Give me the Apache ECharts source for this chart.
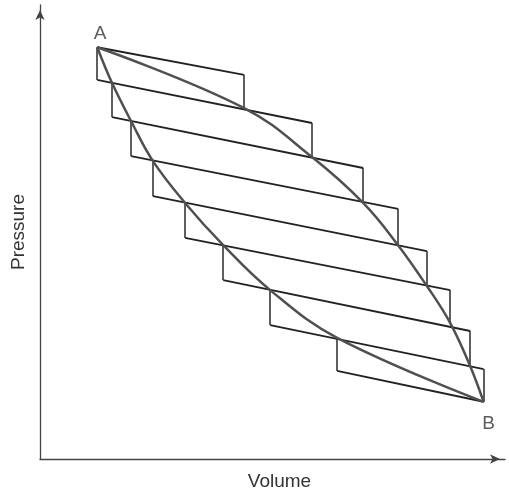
<!DOCTYPE html>
<html>
<head>
<meta charset="utf-8">
<script src="https://cdn.jsdelivr.net/npm/echarts@6/dist/echarts.min.js"></script>
<style>
html, body { margin: 0; padding: 0; background: #fff; }
#chart { width: 509px; height: 495px; }
</style>
</head>
<body>
<div id="chart"></div>
<script>
// slanted lines: start and end point of each (volume, pressure)
let stepStartV = [1.23, 1.23, 1.55, 1.96, 2.43, 3.12, 3.94, 4.95, 6.39];
let stepStartP = [9.07, 8.35, 7.53, 6.67, 5.79, 4.87, 3.94, 2.95, 1.94];
let stepEndV = [4.39, 5.85, 6.95, 7.70, 8.32, 8.82, 9.25, 9.54, 9.54];
let stepEndP = [8.46, 7.40, 6.41, 5.51, 4.58, 3.72, 2.82, 1.98, 1.26];

// lower curve A -> B (also the tops of the left verticals)
let lowerV = [1.23, 1.55, 1.96, 2.43, 3.12, 3.94, 4.95, 6.39, 9.54];
let lowerP = [9.07, 8.28, 7.44, 6.56, 5.64, 4.71, 3.72, 2.67, 1.26];

// upper curve A -> B (also the bottoms of the right verticals)
let upperV = [1.23, 4.39, 5.85, 6.95, 7.70, 8.32, 8.82, 9.25, 9.54];
let upperP = [9.07, 7.73, 6.65, 5.64, 4.71, 3.81, 3.00, 2.05, 1.26];

let pointNames = ['A', 'B'];

let font = 'Liberation Sans, Arial, sans-serif';

// slanted lines
let slanted = [];
for (let i = 0; i < stepStartV.length; i++) {
      slanted.push({ coords: [[stepStartV[i], stepStartP[i]], [stepEndV[i], stepEndP[i]]] });
}

// verticals: left ones hang from the lower curve, right ones drop to the upper curve
let verticals = [];
for (let k = 0; k < stepStartV.length - 1; k++) {
      verticals.push({ coords: [[lowerV[k], lowerP[k]], [stepStartV[k + 1], stepStartP[k + 1]]] });
      verticals.push({ coords: [[stepEndV[k], stepEndP[k]], [upperV[k + 1], upperP[k + 1]]] });
}

let last = lowerV.length - 1;
let ends = [
      { value: [lowerV[0], lowerP[0]], label: { formatter: pointNames[0], position: 'top', distance: 4, offset: [3, 0] } },
      { value: [lowerV[last], lowerP[last]], label: { formatter: pointNames[1], position: 'bottom', distance: 12, offset: [5, 0] } }
];

let chart = echarts.init(document.getElementById('chart'));
let option = {
      backgroundColor: '#fff',
      animation: false,
      grid: { left: 40, right: 4, top: 5, bottom: 36, outerBoundsMode: 'none' },
      xAxis: {
            type: 'value', min: 0, max: 10,
            name: 'Volume', nameLocation: 'middle', nameGap: 13,
            nameTextStyle: { fontSize: 19, color: '#333', fontFamily: font, padding: [0, 0, 0, 14] },
            axisLine: { show: true, symbol: ['none', 'arrow'], symbolSize: [7, 10], symbolOffset: [0, -5],
                  lineStyle: { color: '#444', width: 1.3 } },
            axisTick: { show: false }, axisLabel: { show: false }, splitLine: { show: false }
      },
      yAxis: {
            type: 'value', min: 0, max: 10,
            name: 'Pressure', nameLocation: 'middle', nameGap: 12,
            nameTextStyle: { fontSize: 19, color: '#333', fontFamily: font },
            axisLine: { show: true, symbol: ['none', 'arrow'], symbolSize: [7, 10], symbolOffset: [0, -5],
                  lineStyle: { color: '#444', width: 1.3 } },
            axisTick: { show: false }, axisLabel: { show: false }, splitLine: { show: false }
      },
      series: [{
            type: 'lines', coordinateSystem: 'cartesian2d', silent: true,
            lineStyle: { color: '#222', width: 1.9, opacity: 1, curveness: 0 },
            data: slanted
      }, {
            type: 'lines', coordinateSystem: 'cartesian2d', silent: true,
            lineStyle: { color: '#2a2a2a', width: 1.5, opacity: 1, curveness: 0 },
            data: verticals
      }, {
            type: 'line', showSymbol: false, smooth: 0.4, silent: true,
            lineStyle: { color: '#505050', width: 2.5 },
            data: lowerV.map((v, i) => [v, lowerP[i]])
      }, {
            type: 'line', showSymbol: false, smooth: 0.4, silent: true,
            lineStyle: { color: '#505050', width: 2.5 },
            data: upperV.map((v, i) => [v, upperP[i]])
      }, {
            type: 'scatter', symbolSize: 0, silent: true,
            label: { show: true, fontSize: 19, color: '#333', fontFamily: font },
            data: ends
      }]
};
chart.setOption(option);
</script>
</body>
</html>
